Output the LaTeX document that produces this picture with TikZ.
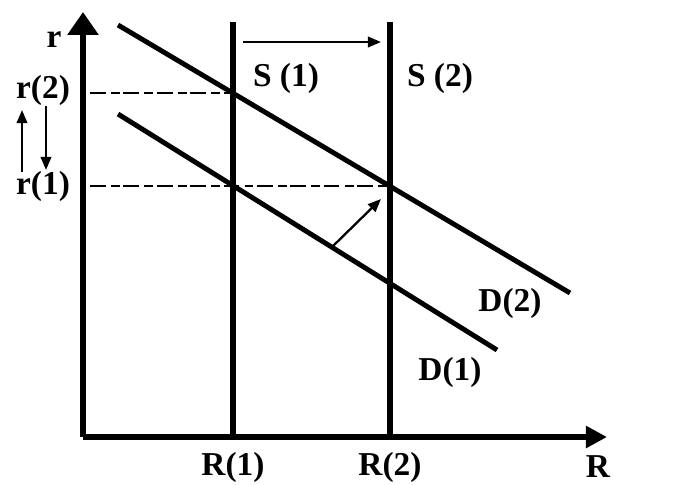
\documentclass[tikz,border=0pt]{standalone}
\usepackage{fontspec}
\setmainfont{Liberation Serif}
\usetikzlibrary{arrows.meta,positioning,calc}

\tikzset{
  axis/.style={line width=3.2pt},
  curve/.style={line width=2.8pt},
  guide/.style={line width=1pt, dash pattern=on 9pt off 3pt on 5pt off 2pt},
  moveline/.style={-{Triangle[length=7.5pt,width=6pt]}, line width=1.3pt},
  lbl/.style={font=\bfseries\fontsize{19}{21}\selectfont, inner sep=1pt}
}

\begin{document}
\begin{tikzpicture}[x=0.02cm, y=-0.02cm]
  \useasboundingbox (0,0) rectangle (685,484);

  % axes
  \coordinate (O) at (83,437);
  \coordinate (ytop) at (83,12);
  \coordinate (xend) at (607,437);
  \draw[axis, -{Triangle[length=13pt,width=17pt]}] (O) -- (ytop);
  \draw[axis, -{Triangle[length=12pt,width=12pt]}] (O) -- (xend);

  % supply lines
  \coordinate (S1b) at (233,437);
  \coordinate (S1t) at (233,22);
  \coordinate (S2b) at (390,437);
  \coordinate (S2t) at (390,22);
  \draw[axis] (S1b) -- (S1t);
  \draw[axis] (S2b) -- (S2t);

  % demand lines
  \coordinate (D2a) at (118,25);
  \coordinate (D2b) at (570,293);
  \coordinate (D1a) at (118,114);
  \coordinate (D1b) at (497,350);
  \draw[curve] (D2a) -- (D2b);
  \draw[curve] (D1a) -- (D1b);

  % equilibrium points and guides
  \coordinate (E2) at (233,93);
  \coordinate (E1) at (233,186);
  \coordinate (E3) at (390,186);
  \coordinate (g2) at (90,93);
  \coordinate (g1) at (90,186);
  \draw[guide] (g2) -- (E2);
  \draw[guide] (g1) -- (E3);

  % shifts
  \coordinate (upa) at (22,172);
  \coordinate (upb) at (22,110);
  \coordinate (dna) at (46,106);
  \coordinate (dnb) at (46,170);
  \draw[moveline] (upa) -- (upb);
  \draw[moveline] (dna) -- (dnb);
  \coordinate (sa) at (243,42);
  \coordinate (sb) at (381,42);
  \draw[moveline] (sa) -- (sb);
  \coordinate (da) at (332,247);
  \coordinate (db) at (381,199);
  \draw[moveline] (da) -- (db);

  % labels
  \node[lbl] (rlab) at (54,40) {r};
  \node[lbl] (r2lab) at (43,90) {r(2)};
  \node[lbl] (r1lab) at (43,186) {r(1)};
  \node[lbl] (S1lab) at (286,78) {S (1)};
  \node[lbl] (S2lab) at (440,78) {S (2)};
  \node[lbl] (D2lab) at (510,303) {D(2)};
  \node[lbl] (D1lab) at (450,372) {D(1)};
  \node[lbl] (R1lab) at (233,467) {R(1)};
  \node[lbl] (R2lab) at (390,467) {R(2)};
  \node[lbl] (Rlab) at (598,467) {R};
\end{tikzpicture}
\end{document}
